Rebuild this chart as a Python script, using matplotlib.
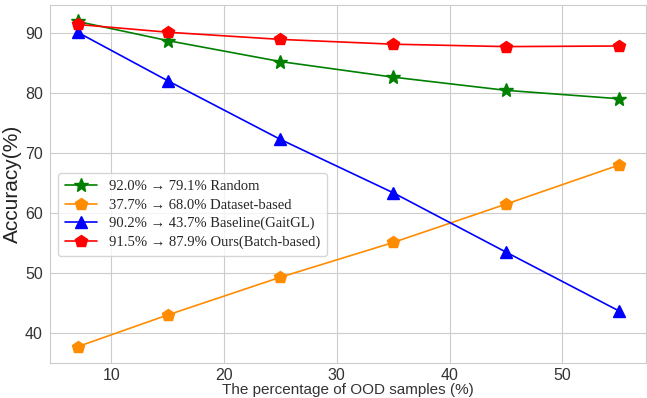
import matplotlib
matplotlib.use("Agg")
import matplotlib.pyplot as plt
import seaborn as sns

# percentage of OOD samples
ood_pct = [7, 15, 25, 35, 45, 55]

acc_random = [92.0, 88.8, 85.3, 82.7, 80.5, 79.1]
acc_dataset = [37.7, 43.0, 49.3, 55.1, 61.5, 68.0]
acc_baseline = [90.2, 82.1, 72.3, 63.4, 53.5, 43.7]
acc_ours = [91.5, 90.2, 89.0, 88.2, 87.8, 87.9]

labels = [
    "92.0% \u2192 79.1% Random",
    "37.7% \u2192 68.0% Dataset-based",
    "90.2% \u2192 43.7% Baseline(GaitGL)",
    "91.5% \u2192 87.9% Ours(Batch-based)",
]

sns.set_style("whitegrid")
plt.rcParams['font.family'] = ['Liberation Sans', 'DejaVu Sans']

fig = plt.figure(figsize=(6.47, 3.98), dpi=100)
ax = fig.add_axes([0.078, 0.088, 0.92, 0.899])

ax.plot(ood_pct, acc_random, color='green', marker='*', markersize=10, lw=1.2, label=labels[0])
ax.plot(ood_pct, acc_dataset, color='darkorange', marker='p', markersize=9, lw=1.2, label=labels[1])
ax.plot(ood_pct, acc_baseline, color='blue', marker='^', markersize=9, lw=1.2, label=labels[2])
ax.plot(ood_pct, acc_ours, color='red', marker='p', markersize=9, lw=1.2, label=labels[3])

ax.set_xticks([10, 20, 30, 40, 50])
ax.set_yticks([40, 50, 60, 70, 80, 90])
ax.tick_params(axis='x', labelsize=11.5, colors='#333333', pad=0)
ax.tick_params(axis='y', labelsize=11.5, colors='#333333', pad=2)
ax.set_xlabel("The percentage of OOD samples (%)", fontsize=11, color='#333333', labelpad=0)
ax.set_ylabel("Accuracy(%)", fontsize=15, color='#222222', labelpad=2)

ax.legend(loc='center left', bbox_to_anchor=(0.0, 0.415),
          prop={'family': ['Liberation Serif', 'DejaVu Serif'], 'size': 10.5},
          frameon=True, handlelength=2.2, borderpad=0.5, labelspacing=0.35)

fig.savefig("out.png", dpi=100)
